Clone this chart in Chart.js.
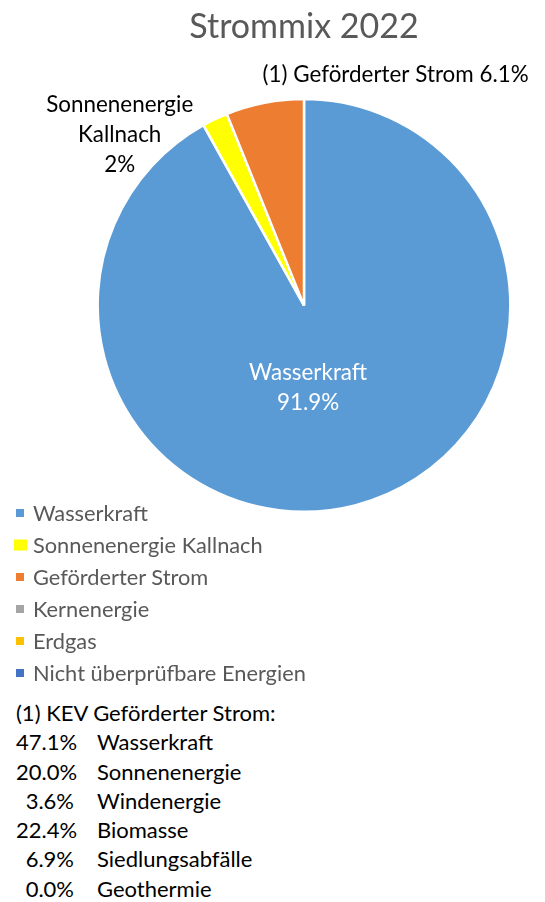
<!DOCTYPE html>
<html>
<head>
<meta charset="utf-8">
<script src="https://cdn.jsdelivr.net/npm/chart.js@4/dist/chart.umd.min.js"></script>
<style>
  body { margin: 0; background: #fff; font-family: Lato, "Noto Sans", sans-serif; }
  #wrap { position: relative; width: 545px; height: 902px; }
  #pie { position: absolute; left: 0; top: 0; }
  #legend { position: absolute; left: 0; top: 497px; margin: 0; padding: 0; list-style: none; }
  #legend li { position: relative; height: 32px; line-height: 32px; font-size: 21.8px; color: #595959; padding-left: 33px; white-space: nowrap; }
  #legend span { position: absolute; top: 50%; transform: translateY(-50%); }
  #note { position: absolute; left: 16px; top: 698px; font-size: 22px; color: #000; }
  #note div { height: 29.3px; line-height: 29.3px; white-space: nowrap; }
  #note .pct { display: inline-block; width: 58px; text-align: right; }
  #note .src { position: absolute; left: 81px; }
</style>
</head>
<body>
<div id="wrap">
  <canvas id="pie" width="545" height="513"></canvas>
  <ul id="legend"></ul>
  <div id="note"></div>
</div>
<script>
const labels = ["Wasserkraft", "Sonnenenergie Kallnach", "Geförderter Strom", "Kernenergie", "Erdgas", "Nicht überprüfbare Energien"];
const shares = [91.9, 2.0, 6.1, 0, 0, 0];
const sliceLabels = [["Wasserkraft", "91.9%"], ["Sonnenenergie", "Kallnach", "2%"], ["(1) Geförderter Strom 6.1%"], [], [], []];
const colors = ["#5B9BD5", "#FFFF00", "#ED7D31", "#A5A5A5", "#FFC000", "#4472C4"];

const kevHeader = "(1) KEV Geförderter Strom:";
const kevShares = ["47.1%", "20.0%", "3.6%", "22.4%", "6.9%", "0.0%"];
const kevSources = ["Wasserkraft", "Sonnenenergie", "Windenergie", "Biomasse", "Siedlungsabfälle", "Geothermie"];

// where each slice label sits, relative to pie centre, in radii
const labelPos = [
  { dx: 0.02, dy: 0.40, color: "#fff" },
  { dx: -0.893, dy: -0.829, color: "#000" },
  { dx: 0.444, dy: -1.117, color: "#000" },
];

const sliceText = {
  id: "sliceText",
  afterDatasetsDraw(chart) {
    const ctx = chart.ctx;
    const arcs = chart.getDatasetMeta(0).data;
    ctx.save();
    ctx.font = "22.4px Lato, 'Noto Sans', sans-serif";
    ctx.textAlign = "center";
    ctx.textBaseline = "middle";
    labelPos.forEach((p, i) => {
      const arc = arcs[i];
      const r = arc.outerRadius;
      const lines = sliceLabels[i];
      const cx = arc.x + p.dx * r;
      const cy = arc.y + p.dy * r;
      ctx.fillStyle = p.color;
      lines.forEach((t, k) => {
        ctx.fillText(t, cx, cy + (k - (lines.length - 1) / 2) * 30);
      });
    });
    ctx.restore();
  },
};

new Chart(document.getElementById("pie"), {
  type: "pie",
  data: {
    labels: labels,
    datasets: [{
      data: shares,
      backgroundColor: colors,
      borderColor: "#fff",
      borderWidth: 2.5,
    }],
  },
  options: {
    responsive: false,
    animation: false,
    layout: { padding: { left: 95, right: 32, top: 0, bottom: 0 } },
    plugins: {
      legend: { display: false },
      tooltip: { enabled: false },
      title: {
        display: true,
        text: "Strommix 2022",
        color: "#595959",
        font: { family: "Lato, 'Noto Sans', sans-serif", size: 34, weight: "normal" },
        padding: { top: 7, bottom: 50 },
      },
    },
  },
  plugins: [sliceText],
});

const legend = document.getElementById("legend");
labels.forEach((name, i) => {
  const li = document.createElement("li");
  const box = document.createElement("span");
  const big = i === 1;
  box.style.left = big ? "14px" : "16px";
  box.style.width = big ? "13px" : "8px";
  box.style.height = big ? "11px" : "8px";
  box.style.background = colors[i];
  li.appendChild(box);
  li.appendChild(document.createTextNode(name));
  legend.appendChild(li);
});

const note = document.getElementById("note");
const head = document.createElement("div");
head.textContent = kevHeader;
note.appendChild(head);
kevShares.forEach((pct, i) => {
  const row = document.createElement("div");
  row.innerHTML = `<span class="pct">${pct}</span><span class="src">${kevSources[i]}</span>`;
  note.appendChild(row);
});
</script>
</body>
</html>
